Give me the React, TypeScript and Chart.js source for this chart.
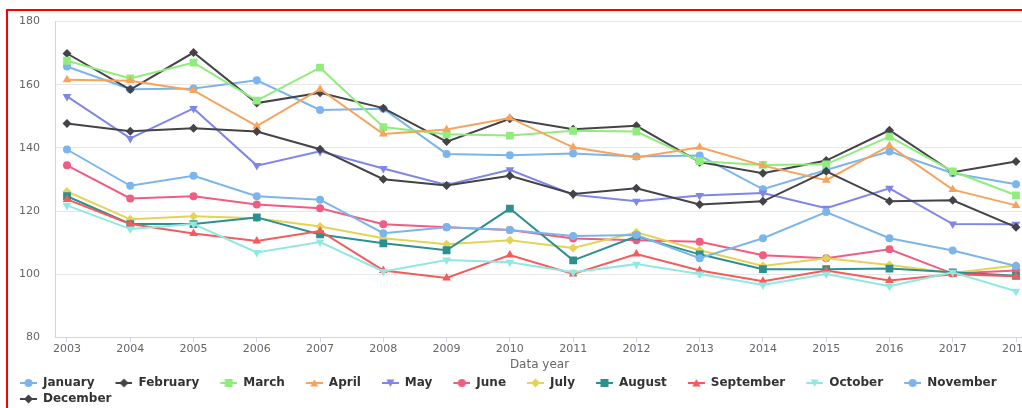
import React, { useEffect, useRef } from "react";
import { Chart, registerables } from "chart.js";

Chart.register(...registerables);

const years = [2003, 2004, 2005, 2006, 2007, 2008, 2009, 2010, 2011, 2012, 2013, 2014, 2015, 2016, 2017, 2018];
const yTicks = [80, 100, 120, 140, 160, 180];

const january = [165.8, 158.6, 158.8, 161.4, 152.0, 152.4, 138.1, 137.7, 138.2, 137.3, 137.6, 126.9, 133.0, 138.9, 132.0, 128.5];
const february = [169.9, 158.5, 170.2, 154.2, 157.5, 152.6, 142.0, 149.2, 145.9, 147.0, 135.5, 132.0, 136.0, 145.6, 132.3, 135.7];
const march = [167.6, 162.0, 167.0, 155.0, 165.4, 146.6, 144.3, 143.9, 145.4, 145.2, 135.8, 134.6, 134.8, 143.6, 132.6, 125.0];
const april = [161.6, 161.3, 158.2, 146.9, 158.6, 144.4, 145.8, 149.5, 140.2, 137.0, 140.2, 134.4, 129.8, 140.7, 126.8, 121.8];
const may = [156.3, 143.0, 152.5, 134.4, 138.9, 133.5, 128.3, 133.1, 125.2, 123.1, 124.9, 125.7, 120.9, 127.2, 115.9, 115.8];
const june = [134.5, 124.0, 124.7, 122.1, 120.9, 115.8, 114.9, 114.0, 111.3, 110.8, 110.3, 106.0, 105.1, 107.9, 100.2, 101.2];
const july = [126.2, 117.4, 118.4, 117.7, 115.1, 111.4, 109.5, 110.8, 108.3, 113.3, 107.6, 102.6, 105.1, 102.9, 100.4, 102.8];
const august = [124.7, 115.9, 115.9, 118.0, 112.6, 109.8, 107.6, 120.8, 104.4, 112.0, 106.3, 101.6, 101.6, 101.8, 100.6, 99.5];
const september = [123.7, 115.9, 112.9, 110.5, 113.7, 101.2, 98.8, 106.1, 100.1, 106.4, 101.2, 97.8, 101.2, 98.0, 100.0, 99.4];
const october = [121.8, 114.3, 115.9, 106.9, 110.2, 100.9, 104.5, 103.8, 100.6, 103.2, 100.1, 96.6, 100.1, 96.2, 100.6, 94.6];
const november = [139.5, 128.0, 131.2, 124.7, 123.6, 113.0, 114.9, 114.0, 112.1, 112.4, 105.1, 111.4, 119.7, 111.4, 107.5, 102.6];
const december = [147.7, 145.3, 146.2, 145.2, 139.6, 130.1, 128.1, 131.2, 125.4, 127.2, 122.1, 123.1, 132.6, 123.1, 123.4, 114.9];

const seriesNames = ["January", "February", "March", "April", "May", "June", "July", "August", "September", "October", "November", "December"];
const seriesValues = [january, february, march, april, may, june, july, august, september, october, november, december];
const seriesColors = ["#7cb5ec", "#434348", "#90ed7d", "#f7a35c", "#8085e9", "#f15c80", "#e4d354", "#2b908f", "#f45b5b", "#91e8e1", "#7cb5ec", "#434348"];
const seriesMarkers = ["circle", "diamond", "square", "triangle", "triangle-down", "circle", "diamond", "square", "triangle", "triangle-down", "circle", "diamond"];

const xTitle = "Data year";
const FONT = "'DejaVu Sans', Verdana, sans-serif";

function markerStyle(m: string) {
  switch (m) {
    case "diamond":
      return { style: "rectRot", radius: 4.5, rotation: 0 };
    case "square":
      return { style: "rect", radius: 5.5, rotation: 0 };
    case "triangle":
      return { style: "triangle", radius: 5, rotation: 0 };
    case "triangle-down":
      return { style: "triangle", radius: 5, rotation: 180 };
    default:
      return { style: "circle", radius: 4, rotation: 0 };
  }
}

function drawMarker(ctx: CanvasRenderingContext2D, m: string, cx: number, cy: number) {
  ctx.beginPath();
  if (m === "circle") {
    ctx.arc(cx, cy, 4, 0, Math.PI * 2);
  } else if (m === "diamond") {
    ctx.moveTo(cx, cy - 4.5);
    ctx.lineTo(cx + 4.5, cy);
    ctx.lineTo(cx, cy + 4.5);
    ctx.lineTo(cx - 4.5, cy);
    ctx.closePath();
  } else if (m === "square") {
    ctx.rect(cx - 4, cy - 4, 8, 8);
  } else if (m === "triangle") {
    ctx.moveTo(cx, cy - 4);
    ctx.lineTo(cx + 4, cy + 3.5);
    ctx.lineTo(cx - 4, cy + 3.5);
    ctx.closePath();
  } else {
    ctx.moveTo(cx, cy + 4);
    ctx.lineTo(cx + 4, cy - 3.5);
    ctx.lineTo(cx - 4, cy - 3.5);
    ctx.closePath();
  }
  ctx.fill();
}

function makeSymbol(color: string, m: string) {
  const c = document.createElement("canvas");
  c.width = 34;
  c.height = 12;
  const ctx = c.getContext("2d")!;
  ctx.strokeStyle = color;
  ctx.fillStyle = color;
  ctx.lineWidth = 2;
  ctx.beginPath();
  ctx.moveTo(17, 6);
  ctx.lineTo(34, 6);
  ctx.stroke();
  drawMarker(ctx, m, 25.5, 6);
  return c;
}

export default function App() {
  const ref = useRef<HTMLCanvasElement>(null);

  useEffect(() => {
    if (!ref.current) return;
    const symbols = seriesNames.map((_, i) => makeSymbol(seriesColors[i], seriesMarkers[i]));
    const datasets = seriesNames.map((name, i) => {
      const mk = markerStyle(seriesMarkers[i]);
      return {
        label: name,
        data: years.map((yr, j) => ({ x: yr, y: seriesValues[i][j] })),
        borderColor: seriesColors[i],
        backgroundColor: seriesColors[i],
        borderWidth: 2,
        pointStyle: mk.style,
        pointRadius: mk.radius,
        pointRotation: mk.rotation,
        pointBackgroundColor: seriesColors[i],
        pointBorderWidth: 0,
        tension: 0,
        order: seriesNames.length - 1 - i,
      };
    });

    const chart = new Chart(ref.current, {
      type: "line",
      data: { datasets } as any,
      options: {
        animation: false,
        responsive: true,
        maintainAspectRatio: false,
        events: [],
        layout: { padding: { top: 20, right: 12, left: 0, bottom: 0 } },
        plugins: {
          tooltip: { enabled: false },
          legend: {
            position: "bottom",
            align: "start",
            labels: {
              usePointStyle: true,
              pointStyleWidth: 34,
              padding: 4,
              color: "#333333",
              font: { family: FONT, size: 12, weight: "bold" },
              generateLabels: (ch: any) =>
                ch.data.datasets.map((ds: any, i: number) => ({
                  text: ds.label,
                  pointStyle: symbols[i],
                  fillStyle: seriesColors[i],
                  strokeStyle: seriesColors[i],
                  lineWidth: 0,
                  hidden: false,
                  datasetIndex: i,
                  fontColor: "#333333",
                })),
            },
          },
        },
        scales: {
          x: {
            type: "linear",
            min: 2003 - 12 / 63.27,
            max: 2018 + 8 / 63.27,
            afterBuildTicks: (scale: any) => {
              scale.ticks = years.map((v) => ({ value: v }));
            },
            ticks: {
              autoSkip: false,
              maxRotation: 0,
              padding: 0,
              color: "#666666",
              font: { family: FONT, size: 11 },
              callback: (v: any) => String(v),
            },
            grid: { drawOnChartArea: false, color: "#ccd6eb", tickLength: 5 },
            border: { color: "#ccd6eb" },
            title: {
              display: true,
              text: xTitle,
              color: "#666666",
              font: { family: FONT, size: 12 },
              padding: { top: 2, bottom: 1 },
            },
          },
          y: {
            type: "linear",
            min: 80,
            max: 180,
            afterFit: (scale: any) => {
              scale.width = 56;
            },
            afterBuildTicks: (scale: any) => {
              scale.ticks = yTicks.map((v) => ({ value: v }));
            },
            ticks: {
              padding: 15,
              color: "#666666",
              font: { family: FONT, size: 11 },
            },
            grid: { color: "#e6e6e6", drawTicks: false },
            border: { display: true, color: "#ccd6eb" },
          },
        },
      } as any,
    });
    return () => chart.destroy();
  }, []);

  return (
    <div style={{ position: "fixed", left: 0, top: 0, width: 1022, height: 408, overflow: "hidden", background: "#ffffff" }}>
      <div style={{ position: "absolute", left: -1, top: 0, width: 1037, height: 415 }}>
        <canvas ref={ref} />
      </div>
      <div
        style={{
          position: "absolute",
          left: 6,
          top: 9,
          width: 1100,
          height: 600,
          border: "2px solid #ff0000",
          boxSizing: "border-box",
          pointerEvents: "none",
        }}
      />
    </div>
  );
}
